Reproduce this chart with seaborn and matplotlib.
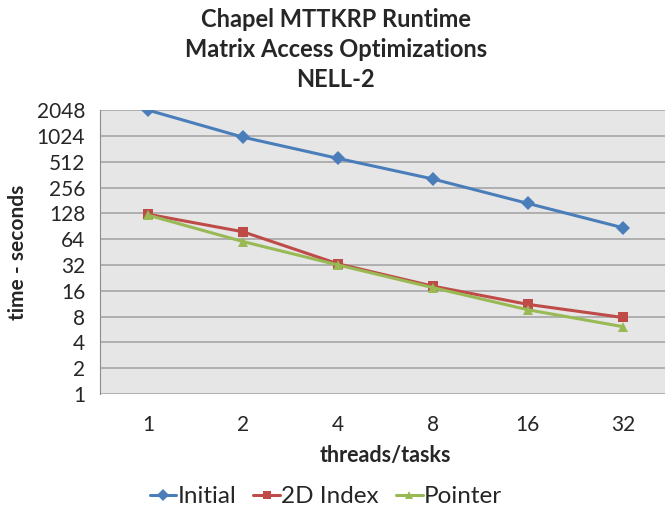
import pandas as pd
import numpy as np
import matplotlib
matplotlib.use('Agg')
import matplotlib.pyplot as plt
import seaborn as sns

#Chart values
threads = ['1', '2', '4', '8', '16', '32']
initial = [2048, 990, 560, 322, 167, 87]
index_2d = [125, 78, 33, 18.1, 11.1, 7.8]
pointer = [122, 60, 32, 17.4, 9.6, 6.1]
y_ticks = [1, 2, 4, 8, 16, 32, 64, 128, 256, 512, 1024, 2048]

sns.set_style('white')
plt.rcParams['font.family'] = ['Lato', 'DejaVu Sans']

#Long format table for seaborn
df = pd.DataFrame({
    'pos': list(range(len(threads))) * 3,
    'time': initial + index_2d + pointer,
    'series': ['Initial'] * 6 + ['2D Index'] * 6 + ['Pointer'] * 6,
})

palette = {'Initial': '#4A7EBB', '2D Index': '#BE4B48', 'Pointer': '#98B954'}
markers = {'Initial': 'D', '2D Index': 's', 'Pointer': '^'}

fig = plt.figure(figsize=(6.65, 5.12), dpi=100)
ax = fig.add_axes([0.151, 0.2305, 0.857, 0.5545])
ax.set_facecolor('#E6E6E6')

sns.lineplot(data=df, x='pos', y='time', hue='series', style='series',
             palette=palette, markers=markers, dashes=False, linewidth=2.2,
             markersize=7, markeredgewidth=0, ax=ax)

ax.set_yscale('log', base=2)
ax.set_ylim(1, 2048)
ax.set_yticks(y_ticks)
ax.set_yticklabels([str(t) for t in y_ticks])
ax.minorticks_off()
ax.set_xlim(-0.5, len(threads) - 0.5)
ax.set_xticks(range(len(threads)))
ax.set_xticklabels(threads)
ax.yaxis.grid(True, color='#A6A6A6', linewidth=1.2)
ax.xaxis.grid(False)

for s in ['top', 'right', 'bottom']:
    ax.spines[s].set_visible(False)
ax.spines['left'].set_color('#8C8C8C')
ax.tick_params(axis='y', length=5, color='#8C8C8C', labelsize=15, pad=6)
ax.tick_params(axis='x', length=0, labelsize=15, pad=15)

ax.set_xlabel('threads/tasks', fontsize=15.5, fontweight='bold', labelpad=7)
ax.set_ylabel('time - seconds', fontsize=15, fontweight='bold', labelpad=6)

fig.text(0.505, 0.962, 'Chapel MTTKRP Runtime', ha='center', va='center', fontsize=17, fontweight='bold')
fig.text(0.505, 0.904, 'Matrix Access Optimizations', ha='center', va='center', fontsize=17, fontweight='bold')
fig.text(0.505, 0.845, 'NELL-2', ha='center', va='center', fontsize=17, fontweight='bold')

leg = ax.legend(loc='center', bbox_to_anchor=(0.49, 0.03), bbox_transform=fig.transFigure,
                ncol=3, frameon=False, fontsize=17.5, handlelength=1.1, handletextpad=0.05,
                columnspacing=0.7, markerscale=0.85, title=None)

plt.savefig('out.png', dpi=100)
